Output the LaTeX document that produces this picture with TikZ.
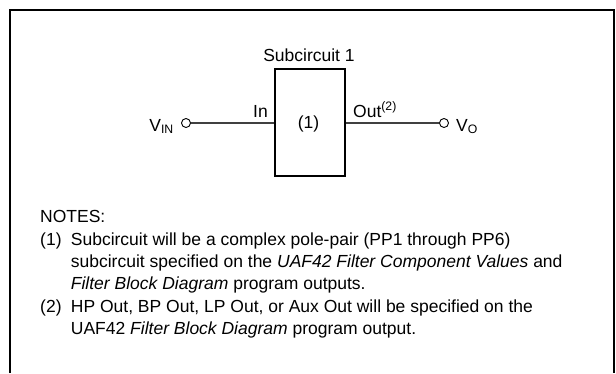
\documentclass[tikz,border=0pt]{standalone}
\usepackage{fontspec}
\setmainfont{Liberation Sans}
\begin{document}
\begin{tikzpicture}[x=1pt,y=-1pt,
  font=\fontsize{17.5}{21}\selectfont,
  frameline/.style={line width=2pt,black},
  blk/.style={draw,line width=2pt,minimum width=70pt,minimum height=107pt,inner sep=0pt},
  term/.style={draw,circle,line width=0.9pt,minimum size=9pt,inner sep=0pt},
  wire/.style={line width=1.6pt,black!75},
  lbl/.style={inner sep=0pt},
  note/.style={inner sep=0pt,anchor=base west}]
\useasboundingbox (0,0) rectangle (616,373);
\draw[frameline] (10,373) -- (10,10) -- (615,10);
\draw[line width=1.3pt] (614,10) -- (614,373);
% block
\node[blk] (box) at (310,122.5) {};
\node[lbl] (boxlbl) at (308.5,124) {(1)};
\node[lbl,anchor=base] (title) at (309,61.5) {Subcircuit 1};
% terminals
\node[term] (vin) at (186,123) {};
\node[term] (vo) at (444,123) {};
\draw[wire] (vin.east) -- (vin -| box.west);
\draw[wire] (vo -| box.east) -- (vo.west);
\node[lbl,anchor=base west] (inl) at (253,117) {In};
\node[lbl,anchor=base west] (outl) at (353,117) {Out\textsuperscript{(2)}};
\node[lbl,anchor=base east] (vinl) at (174,131) {V\textsubscript{IN}};
\node[lbl,anchor=base west] (vol) at (456,131) {V\textsubscript{O}};
% notes
\node[note] (n0) at (40,222.7) {NOTES:};
\node[note] (n1a) at (40,245.1) {(1)};
\node[note] (n1b) at (70.7,245.1) {Subcircuit will be a complex pole-pair (PP1 through PP6)};
\node[note] (n1c) at (70.7,267.5) {subcircuit specified on the \textit{UAF42 Filter Component Values} and};
\node[note] (n1d) at (70.7,289.9) {\textit{Filter Block Diagram} program outputs.};
\node[note] (n2a) at (40,312.3) {(2)};
\node[note] (n2b) at (70.7,312.3) {HP Out, BP Out, LP Out, or Aux Out will be specified on the};
\node[note] (n2c) at (70.7,334.7) {UAF42 \textit{Filter Block Diagram} program output.};
\end{tikzpicture}
\end{document}
